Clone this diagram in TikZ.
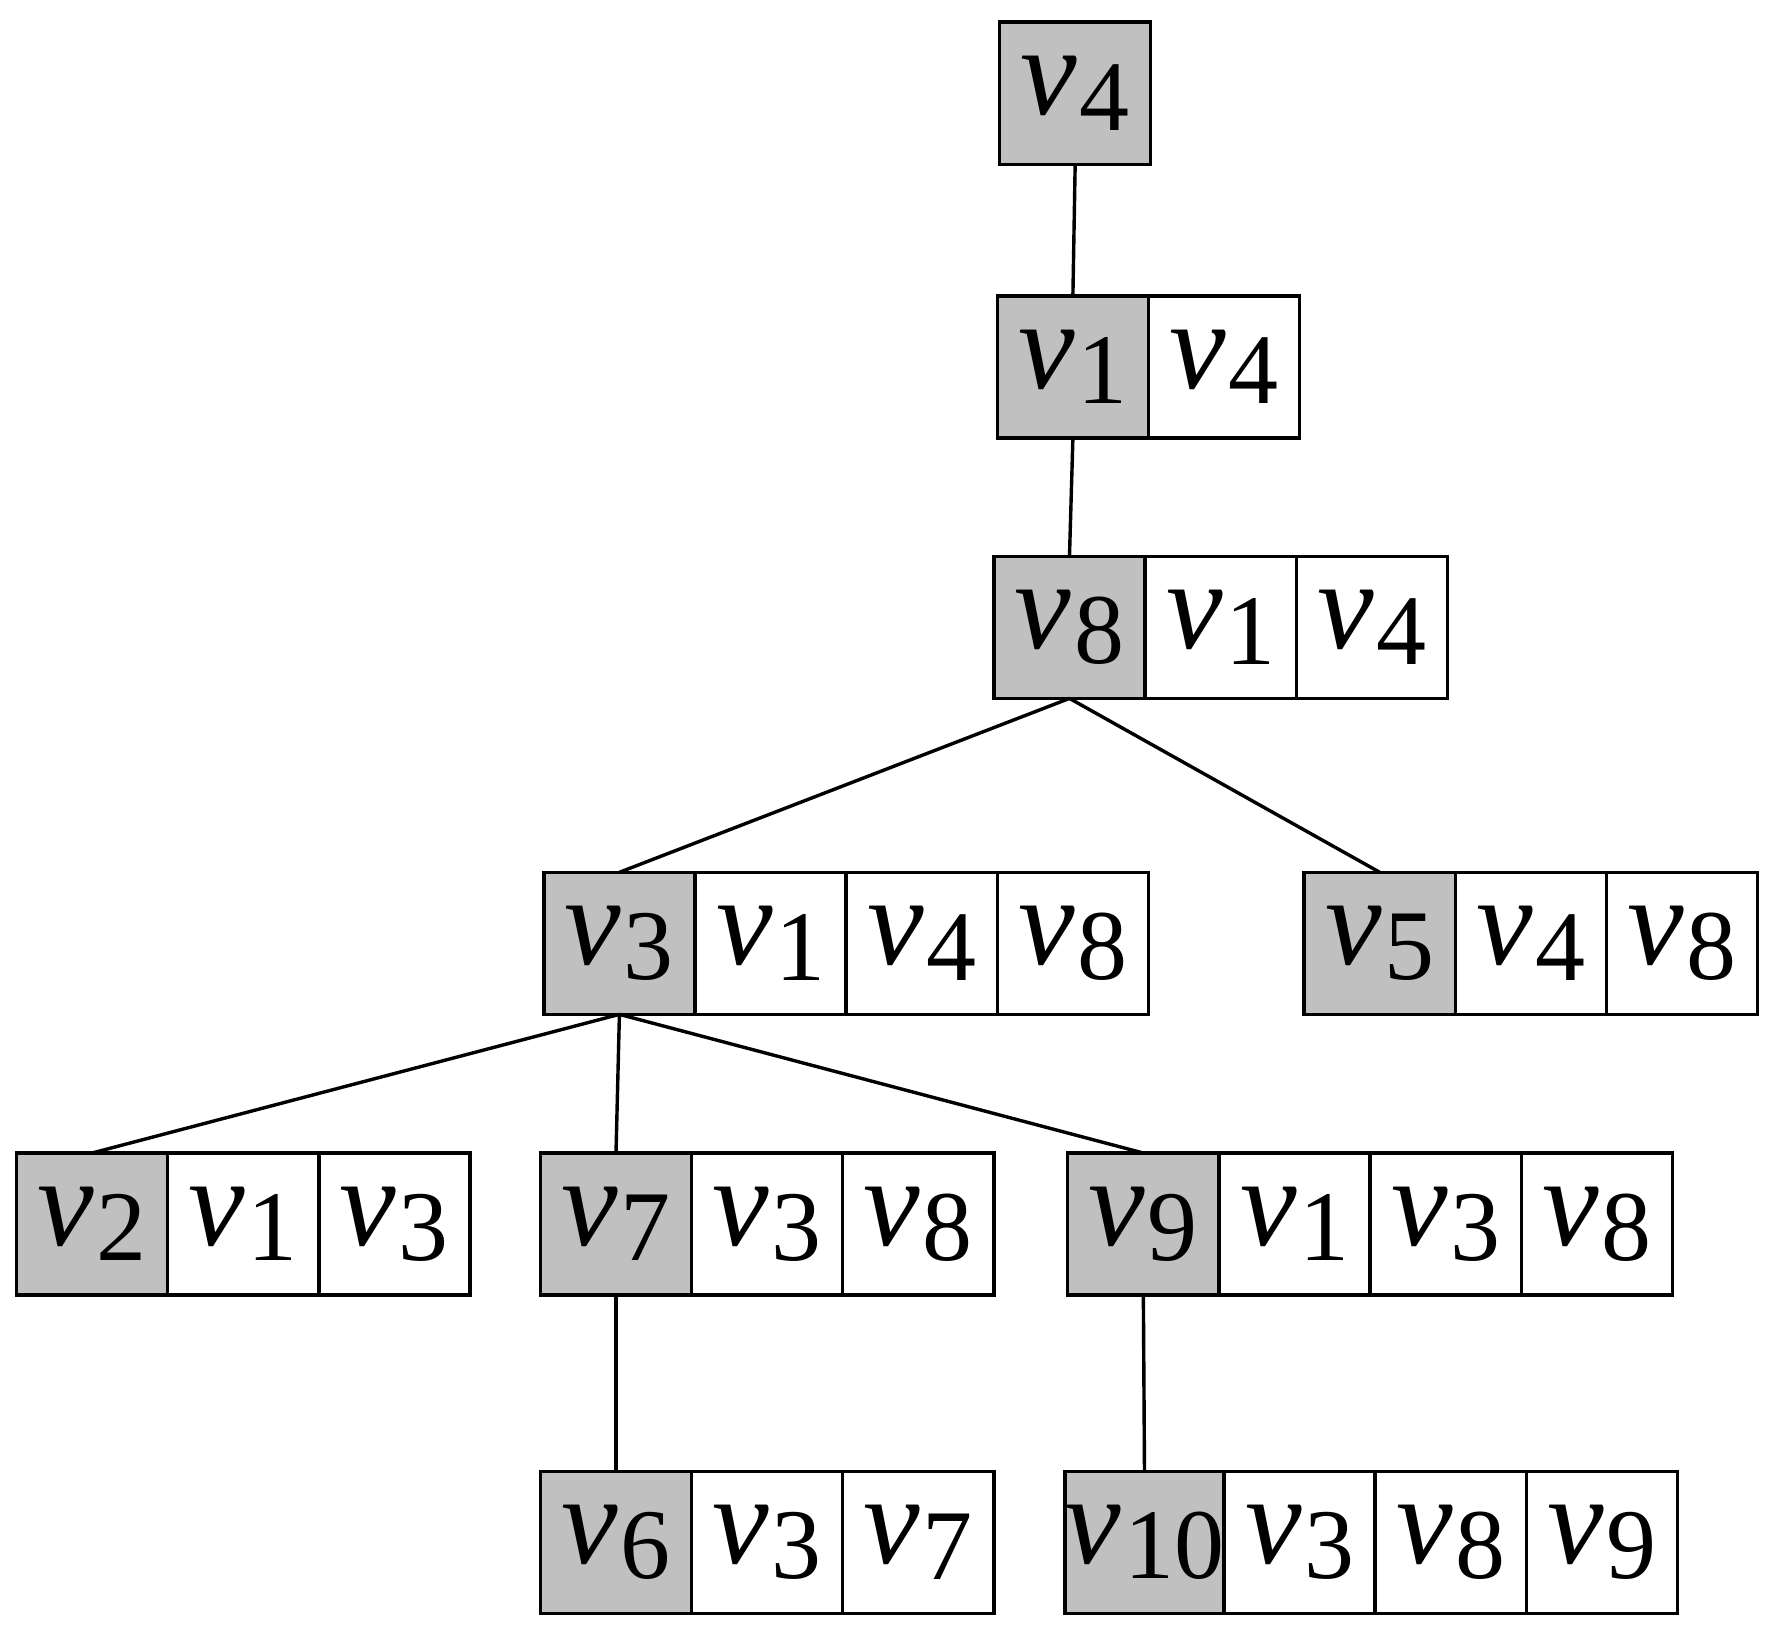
\documentclass[tikz,border=0pt]{standalone}
\usepackage{fontspec}
\setmainfont{Liberation Serif}
\newcommand{\vv}[1]{\textit{v}\kern0.02em\raisebox{-0.12em}{\fontsize{44}{50}\selectfont #1}}
\tikzset{every picture/.style={line width=1.5pt},
  cell/.style={draw, minimum width=66.5pt, minimum height=62.5pt, inner sep=0pt, outer sep=0pt,
    font=\fontsize{56}{60}\selectfont},
  head/.style={cell, fill={rgb,255:red,192;green,192;blue,192}},
  next/.style={cell, anchor=west}}
\begin{document}
\begin{tikzpicture}[x=0.5pt,y=0.5pt,yscale=-1]
\useasboundingbox (0,0) rectangle (1560,1435);

% row 0
\node[head] (n4) at (946,82) {\vv{4}};
% row 1
\node[head] (n1) at (944,323) {\vv{1}};
\node[next] (n1a) at (n1.east) {\vv{4}};
% row 2
\node[head] (n8) at (941,552) {\vv{8}};
\node[next] (n8a) at (n8.east) {\vv{1}};
\node[next] (n8b) at (n8a.east) {\vv{4}};
% row 3
\node[head] (n3) at (545,830) {\vv{3}};
\node[next] (n3a) at (n3.east) {\vv{1}};
\node[next] (n3b) at (n3a.east) {\vv{4}};
\node[next] (n3c) at (n3b.east) {\vv{8}};
\node[head] (n5) at (1214,830) {\vv{5}};
\node[next] (n5a) at (n5.east) {\vv{4}};
\node[next] (n5b) at (n5a.east) {\vv{8}};
% row 4
\node[head] (n2) at (81,1077) {\vv{2}};
\node[next] (n2a) at (n2.east) {\vv{1}};
\node[next] (n2b) at (n2a.east) {\vv{3}};
\node[head] (n7) at (542,1077) {\vv{7}};
\node[next] (n7a) at (n7.east) {\vv{3}};
\node[next] (n7b) at (n7a.east) {\vv{8}};
\node[head] (n9) at (1006,1077) {\vv{9}};
\node[next] (n9a) at (n9.east) {\vv{1}};
\node[next] (n9b) at (n9a.east) {\vv{3}};
\node[next] (n9c) at (n9b.east) {\vv{8}};
% row 5
\node[head] (n6) at (542,1357) {\vv{6}};
\node[next] (n6a) at (n6.east) {\vv{3}};
\node[next] (n6b) at (n6a.east) {\vv{7}};
\node[head] (n10) at (1007,1357) {\vv{10}};
\node[next] (n10a) at (n10.east) {\vv{3}};
\node[next] (n10b) at (n10a.east) {\vv{8}};
\node[next] (n10c) at (n10b.east) {\vv{9}};

% tree edges
\draw (n4.south) -- (n1.north);
\draw (n1.south) -- (n8.north);
\draw (n8.south) -- (n3.north);
\draw (n8.south) -- (n5.north);
\draw (n3.south) -- (n2.north);
\draw (n3.south) -- (n7.north);
\draw (n3.south) -- (n9.north);
\draw (n7.south) -- (n6.north);
\draw (n9.south) -- (n10.north);
\end{tikzpicture}
\end{document}
